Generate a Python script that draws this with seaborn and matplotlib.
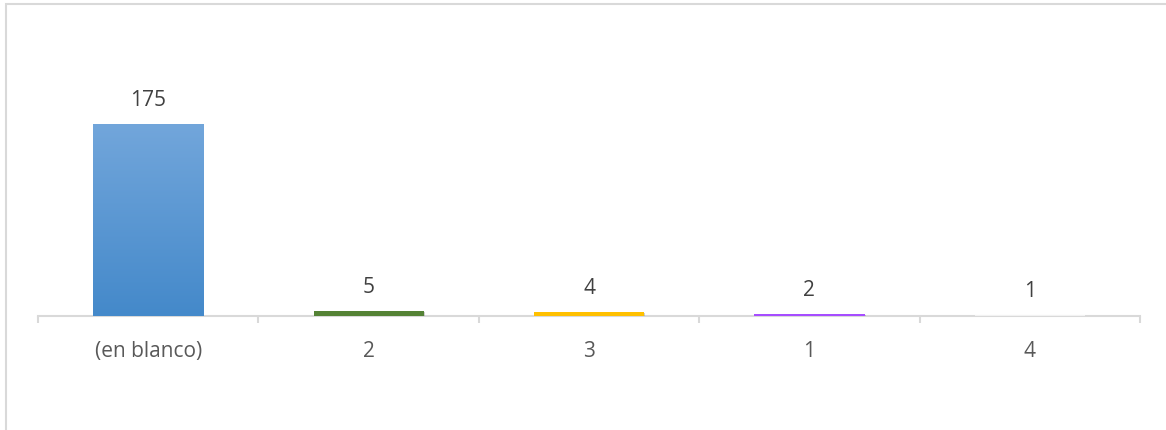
import numpy as np
import pandas as pd
import matplotlib
matplotlib.use("Agg")
import matplotlib.pyplot as plt
import matplotlib.patheffects as pe
from matplotlib.patches import Rectangle
from matplotlib.colors import LinearSegmentedColormap
import seaborn as sns

# Data
categories = ["(en blanco)", "2", "3", "1", "4"]
counts = [175, 5, 4, 2, 1]
bar_colors = ["#5B9BD5", "#548235", "#FFC000", "#A64DFF", "#F2F2F2"]

sns.set_theme(style="white")
plt.rcParams["font.family"] = ["Open Sans", "DejaVu Sans"]

df = pd.DataFrame({"categoria": categories, "cantidad": counts})

fig = plt.figure(figsize=(11.66, 4.30), dpi=100)
W, H = 1166, 430
ax_left, ax_right = 38 / W, 1140 / W
ax_bottom = 1 - 316 / H
ymax = 250
px_per_unit = 192 / 175
ax_top_px = 316 - ymax * px_per_unit
ax = fig.add_axes([ax_left, ax_bottom, ax_right - ax_left, (316 - ax_top_px) / H])

sns.barplot(data=df, x="categoria", y="cantidad", hue="categoria",
            palette=bar_colors, order=categories, hue_order=categories,
            width=0.5, legend=False, ax=ax, saturation=1, zorder=3)

# soft shadow on the bars
shadow = [pe.SimplePatchShadow(offset=(0.8, -0.8), shadow_rgbFace="#7f7f7f", alpha=0.35),
          pe.Normal()]
for p in ax.patches:
    p.set_path_effects(shadow)
    p.set_edgecolor("none")

# vertical gradient on the tallest bar
first = ax.patches[0]
x0, w, h = first.get_x(), first.get_width(), first.get_height()
grad_cmap = LinearSegmentedColormap.from_list("azul", ["#4489CA", "#72A6DB"])
grad = np.linspace(0, 1, 256).reshape(-1, 1)
im = ax.imshow(grad, cmap=grad_cmap, origin="lower", aspect="auto",
               extent=[x0, x0 + w, 0, h], zorder=3.5)
im.set_clip_path(first)

ax.set_xlim(-0.5, len(categories) - 0.5)
ax.set_ylim(0, ymax)

# value labels
for cont in ax.containers:
    ax.bar_label(cont, fmt="%d", padding=9, fontsize=15, color="#404040")

# axes styling
for side in ["top", "right", "left"]:
    ax.spines[side].set_visible(False)
ax.spines["bottom"].set_color("#D9D9D9")
ax.spines["bottom"].set_linewidth(1.5)
ax.set_yticks([])
ax.set_xlabel("")
ax.set_ylabel("")
ax.set_xticks(range(len(categories)))
ax.set_xticklabels(categories)
ax.set_xticks(np.arange(-0.5, len(categories)), minor=True)
ax.tick_params(axis="x", which="major", length=0, pad=18, labelsize=15,
               labelcolor="#595959")
ax.tick_params(axis="x", which="minor", length=5, width=1.5, color="#D9D9D9",
               bottom=True, direction="out")
ax.patch.set_alpha(0)

# chart frame
frame = Rectangle((5.5 / W, -0.1), 1.2, 1.1 - 3.5 / H, transform=fig.transFigure,
                  fill=False, edgecolor="#D9D9D9", linewidth=1.5, clip_on=False)
fig.patches.append(frame)

fig.savefig("out.png", dpi=100, facecolor="white")
